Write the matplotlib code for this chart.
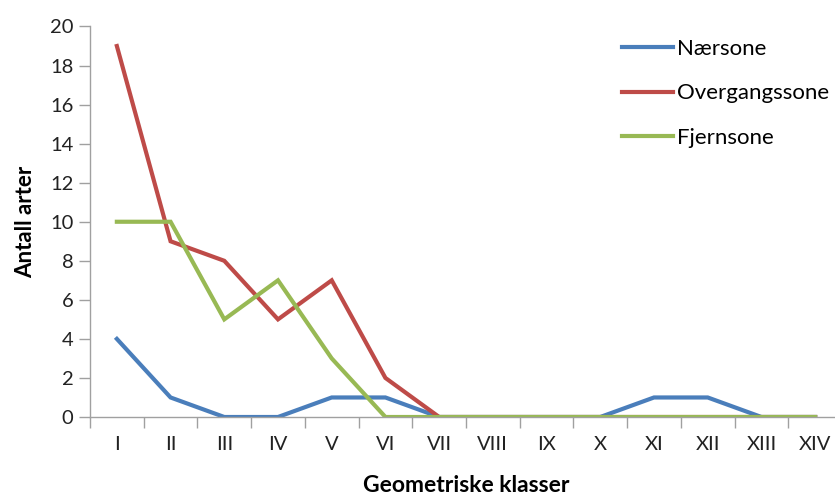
import matplotlib
matplotlib.use("Agg")
import matplotlib.pyplot as plt

categories = ["I", "II", "III", "IV", "V", "VI", "VII", "VIII", "IX", "X", "XI", "XII", "XIII", "XIV"]
naersone = [4, 1, 0, 0, 1, 1, 0, 0, 0, 0, 1, 1, 0, 0]
overgangssone = [19, 9, 8, 5, 7, 2, 0, 0, 0, 0, 0, 0, 0, 0]
fjernsone = [10, 10, 5, 7, 3, 0, 0, 0, 0, 0, 0, 0, 0, 0]
yticks = list(range(0, 21, 2))

plt.rcParams['font.family'] = ['Lato', 'DejaVu Sans']

fig = plt.figure(figsize=(8.35, 4.95), dpi=100)
ax = fig.add_axes([90/835, 78/495, 752/835, 390.5/495])

x = list(range(len(categories)))
ax.plot(x, naersone, color="#4A7EBB", lw=3, label="Nærsone", solid_joinstyle='miter')
ax.plot(x, overgangssone, color="#BE4B48", lw=3, label="Overgangssone", solid_joinstyle='miter')
ax.plot(x, fjernsone, color="#98B954", lw=3, label="Fjernsone", solid_joinstyle='miter')

ax.set_xlim(-0.5, 13.5)
ax.set_ylim(0, 20)
ax.set_yticks(yticks)
ax.set_xticks([i - 0.5 for i in range(len(categories) + 1)], minor=False)
ax.set_xticklabels([])
ax.set_xticks(x, minor=True)
ax.set_xticklabels(categories, minor=True)
ax.tick_params(axis='x', which='major', length=8, color='#A0A0A0', width=1)
ax.tick_params(axis='x', which='minor', length=0, labelsize=14.5, pad=14, labelcolor='#222222')
ax.tick_params(axis='y', length=8, color='#A0A0A0', width=1, labelsize=14.5, labelcolor='#222222', pad=4)

for s in ['top', 'right']:
    ax.spines[s].set_visible(False)
for s in ['left', 'bottom']:
    ax.spines[s].set_color('#A0A0A0')
    ax.spines[s].set_linewidth(1)

ax.set_ylabel("Antall arter", fontsize=16, fontweight='bold', labelpad=10)
fig.text(466/835, 1 - 486/495, "Geometriske klasser", fontsize=16.5, fontweight='bold', ha='center', va='center')

leg = ax.legend(loc='upper left', bbox_to_anchor=(602/835, 1 - 19/495), bbox_transform=fig.transFigure,
                frameon=False, fontsize=16, handlelength=2.3, handletextpad=0.18, labelspacing=1.1)

fig.savefig("out.png", dpi=100)
